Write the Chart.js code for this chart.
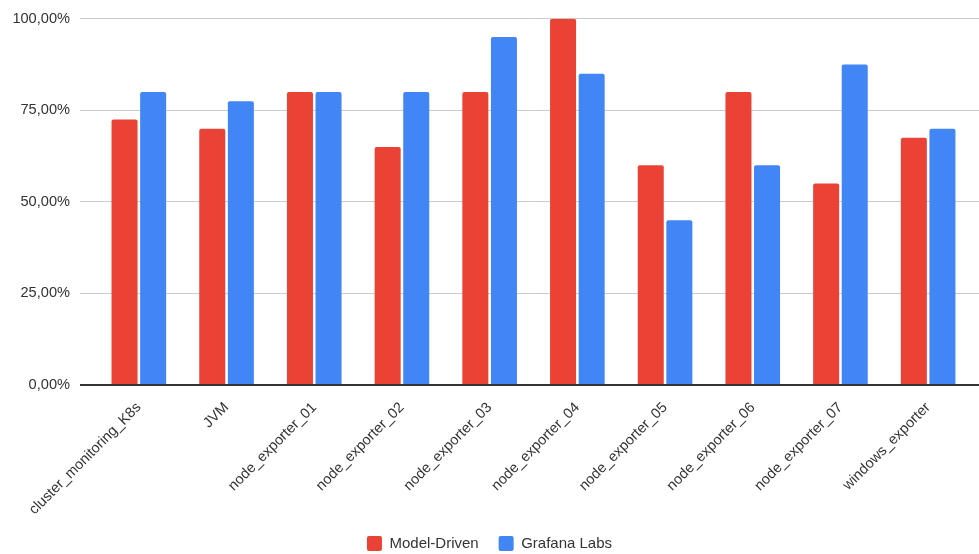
<!DOCTYPE html>
<html>
<head>
<meta charset="utf-8">
<script src="https://cdn.jsdelivr.net/npm/chart.js@4.4.1/dist/chart.umd.min.js"></script>
<style>
    html, body { margin: 0; padding: 0; background: #fff; }
    .grafica { width: 979px; height: 554px; }
</style>
</head>
<body>
<div class="grafica"><canvas id="myChart"></canvas></div>
<script>
const categorias = ['cluster_monitoring_K8s', 'JVM', 'node_exporter_01', 'node_exporter_02', 'node_exporter_03', 'node_exporter_04', 'node_exporter_05', 'node_exporter_06', 'node_exporter_07', 'windows_exporter']
const modelDriven = [72.5, 70, 80, 65, 80, 100, 60, 80, 55, 67.5]
const grafanaLabs = [80, 77.5, 80, 80, 95, 85, 45, 60, 87.5, 70]
const ticksY = [0, 25, 50, 75, 100]

const fuente = 'Arial, "Liberation Sans", sans-serif'
const texto = '#333'

function porcentaje(v) {
    return v.toFixed(2).replace('.', ',') + '%'
}

const ctx = document.getElementById('myChart')
new Chart(ctx, {
    type: 'bar',
    data: {
        labels: categorias,
        datasets: [{
            label: 'Model-Driven',
            data: modelDriven,
            backgroundColor: '#EA4335',
            borderRadius: 2,
            borderSkipped: 'bottom'
        }, {
            label: 'Grafana Labs',
            data: grafanaLabs,
            backgroundColor: '#4285F4',
            borderRadius: 2,
            borderSkipped: 'bottom'
        }]
    },
    options: {
        responsive: true,
        maintainAspectRatio: false,
        animation: false,
        categoryPercentage: 0.652,
        barPercentage: 0.91,
        // padding negativo abajo para bajar la leyenda
        layout: { padding: { top: 8, bottom: -7 } },
        plugins: {
            tooltip: { enabled: false },
            legend: {
                position: 'bottom',
                labels: {
                    font: { family: fuente, size: 15 },
                    color: texto,
                    boxWidth: 15,
                    boxHeight: 15,
                    padding: 20,
                    useBorderRadius: true,
                    borderRadius: 2
                }
            }
        },
        scales: {
            x: {
                grid: { display: false },
                border: { display: false },
                ticks: {
                    font: { family: fuente, size: 14.5 },
                    color: texto,
                    minRotation: 45,
                    maxRotation: 45,
                    padding: 6,
                    autoSkip: false
                },
                afterFit: (scale) => { scale.height = 131 }
            },
            y: {
                min: 0,
                max: 100,
                afterBuildTicks: (scale) => { scale.ticks = ticksY.map(v => ({ value: v })) },
                border: { display: false },
                grid: {
                    color: (c) => c.tick && c.tick.value === 0 ? '#333' : '#ccc',
                    lineWidth: (c) => c.tick && c.tick.value === 0 ? 2 : 1,
                    tickLength: 15
                },
                ticks: {
                    font: { family: fuente, size: 14.6 },
                    color: texto,
                    padding: 10,
                    callback: (v) => porcentaje(v)
                },
                afterFit: (scale) => { scale.width = 95 }
            },
            y2: {
                position: 'right',
                min: 0,
                max: 100,
                afterBuildTicks: (scale) => { scale.ticks = ticksY.map(v => ({ value: v })) },
                border: { display: false },
                grid: {
                    drawOnChartArea: false,
                    color: (c) => c.tick && c.tick.value === 0 ? '#333' : '#ccc',
                    lineWidth: (c) => c.tick && c.tick.value === 0 ? 2 : 1,
                    tickLength: 7
                },
                ticks: { display: false },
                afterFit: (scale) => { scale.width = 7 }
            }
        }
    }
})
</script>
</body>
</html>
